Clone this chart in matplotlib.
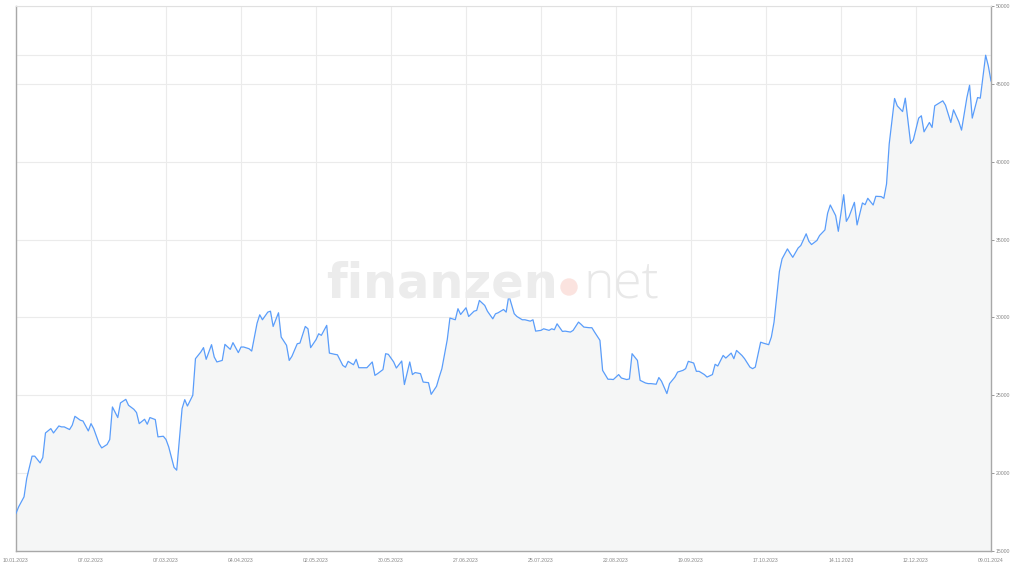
import numpy as np
import matplotlib
matplotlib.use('Agg')
import matplotlib.pyplot as plt
import matplotlib.dates as mdates
from matplotlib.patches import Ellipse
from datetime import datetime, timedelta

start_date = datetime(2023, 1, 10)

# day offsets from 10.01.2023 and closing values
day_offsets = [0, 1, 3, 4, 6, 7, 9, 10, 11, 13, 14, 16, 17, 18, 20, 21, 22, 24, 25, 27,
               28, 29, 31, 32, 34, 35, 36, 38, 39, 41, 42, 44, 45, 46, 48, 49, 50, 52, 53, 55,
               56, 57, 59, 60, 62, 63, 64, 66, 67, 69, 70, 71, 73, 74, 75, 77, 78, 80, 81, 83,
               84, 85, 87, 88, 90, 91, 92, 94, 95, 96, 98, 99, 101, 102, 103, 105, 106, 108, 109, 110,
               112, 113, 114, 116, 117, 119, 120, 122, 123, 124, 126, 127, 128, 130, 131, 133, 134, 135, 137, 138,
               139, 141, 142, 144, 145, 147, 148, 149, 151, 152, 154, 155, 157, 158, 159, 161, 162, 164, 165, 166,
               168, 169, 171, 172, 173, 175, 176, 178, 179, 180, 182, 183, 184, 186, 187, 189, 190, 192, 193, 194,
               196, 197, 199, 200, 201, 202, 204, 205, 207, 208, 210, 211, 212, 214, 215, 216, 218, 219, 221, 222,
               223, 225, 226, 228, 229, 230, 232, 233, 235, 236, 237, 239, 240, 241, 243, 244, 246, 247, 249, 250,
               251, 253, 254, 255, 257, 258, 260, 261, 262, 264, 265, 267, 268, 269, 271, 272, 274, 275, 276, 278,
               279, 281, 282, 283, 285, 286, 288, 289, 290, 292, 293, 295, 296, 297, 299, 300, 302, 303, 304, 306,
               307, 309, 310, 311, 313, 314, 316, 317, 318, 320, 321, 323, 324, 325, 326, 328, 329, 331, 332, 334,
               335, 337, 338, 339, 341, 342, 343, 345, 346, 347, 349, 350, 352, 353, 355, 356, 357, 359, 360, 362,
               363, 364]
prices = [17420, 17840, 18480, 19660, 21090, 21090, 20660, 21000, 22580, 22860, 22580, 23030, 22970, 22970, 22800, 23080, 23650, 23400, 23350, 22710,
          23180, 22860, 21900, 21620, 21840, 22160, 24250, 23570, 24510, 24740, 24360, 24100, 23890, 23180, 23460, 23140, 23570, 23440, 22330, 22370,
          22160, 21690, 20370, 20190, 24140, 24720, 24310, 25000, 27350, 27780, 28060, 27310, 28250, 27460, 27140, 27240, 28270, 27950, 28380, 27740,
          28100, 28100, 27990, 27840, 29630, 30170, 29850, 30340, 30400, 29420, 30300, 28740, 28210, 27240, 27500, 28310, 28350, 29420, 29270, 28060,
          28570, 28950, 28850, 29490, 27710, 27630, 27600, 26920, 26800, 27180, 26960, 27310, 26770, 26770, 26770, 27140, 26280, 26390, 26650, 27670,
          27630, 27140, 26750, 27200, 25690, 27140, 26330, 26460, 26390, 25850, 25810, 25060, 25580, 26170, 26710, 28570, 29960, 29850, 30560, 30190,
          30620, 30060, 30400, 30450, 31090, 30770, 30400, 29910, 30230, 30300, 30510, 30340, 31410, 30240, 30060, 29850, 29850, 29760, 29850, 29120,
          29170, 29270, 29170, 29270, 29210, 29590, 29100, 29120, 29060, 29170, 29700, 29550, 29380, 29340, 29340, 29060, 28530, 26600, 26030, 26030,
          26010, 26330, 26110, 26010, 26050, 27670, 27240, 25960, 25790, 25750, 25750, 25710, 26140, 25900, 25110, 25750, 26170, 26490, 26600, 26710,
          27180, 27070, 26540, 26540, 26330, 26170, 26330, 26990, 26880, 27560, 27390, 27710, 27350, 27880, 27560, 27350, 26810, 26710, 26810, 28410,
          28350, 28250, 28740, 29700, 32950, 33760, 34400, 34120, 33860, 34460, 34620, 35370, 34890, 34680, 34940, 35260, 35620, 36690, 37220, 36540,
          35530, 37880, 36170, 36470, 37390, 35940, 37350, 37240, 37650, 37220, 37780, 37760, 37650, 38570, 41140, 44060, 43590, 43220, 44080, 41170,
          41410, 42800, 42950, 41920, 42520, 42200, 43590, 43800, 43910, 43630, 42520, 43330, 42560, 42030, 44120, 44910, 42800, 44120, 44080, 46840,
          46150, 45190]

y_ticks = [15000, 20000, 25000, 30000, 35000, 40000, 45000, 50000]
x_tick_step_days = 28

dates = [start_date + timedelta(days=d) for d in day_offsets]
end_date = start_date + timedelta(days=day_offsets[-1])

fig = plt.figure(figsize=(10.24, 5.76), dpi=100)
ax = fig.add_axes([16/1024, 1 - 551/576, 975/1024, 545/576])

grid_c = '#ebebeb'
ax.fill_between(dates, prices, y_ticks[0], color='#f5f6f6', zorder=1, linewidth=0)
ax.plot(dates, prices, color='#5a9dfa', lw=0.9, zorder=3)

# extra guide lines at the lowest and highest value
ax.axhline(min(prices), color=grid_c, lw=0.8, zorder=0.5)
ax.axhline(max(prices), color=grid_c, lw=0.8, zorder=0.5)

ax.set_xlim(start_date, end_date)
ax.set_ylim(y_ticks[0], y_ticks[-1])
xt = [start_date + timedelta(days=x_tick_step_days*k) for k in range(14)]
ax.set_xticks(xt)
ax.xaxis.set_major_formatter(mdates.DateFormatter('%d.%m.%Y'))
ax.set_yticks(y_ticks)
ax.yaxis.tick_right()
ax.grid(True, color=grid_c, lw=0.8, zorder=0.5)
ax.set_axisbelow(True)

ax.tick_params(axis='x', labelsize=3.7, colors='#888888', length=0, pad=5)
ax.tick_params(axis='y', labelsize=3.7, colors='#888888', length=2, pad=1.2, width=0.6)
for lab in ax.get_xticklabels() + ax.get_yticklabels():
    lab.set_family('Liberation Sans')

for side in ['left', 'bottom', 'right']:
    ax.spines[side].set_color('#a8a8a8')
    ax.spines[side].set_linewidth(1.0)
ax.spines['top'].set_color('#e0e0e0')
ax.spines['top'].set_linewidth(0.8)

# watermark
fig.text(326/1024, 1 - 298/576, 'finanzen', fontsize=34.5, fontweight='bold', color='#ececec',
         family='DejaVu Sans', ha='left', va='baseline', zorder=0)
fig.text(583/1024, 1 - 298/576, 'net', fontsize=37, fontweight='light', color='#e8e8e8',
         family='Open Sans', ha='left', va='baseline', zorder=0)
fig.patches.append(Ellipse((569/1024, 1 - 287/576), 16/1024, 16/576, transform=fig.transFigure,
                           color='#fbe3df', zorder=0))

fig.savefig('out.png', dpi=100)
